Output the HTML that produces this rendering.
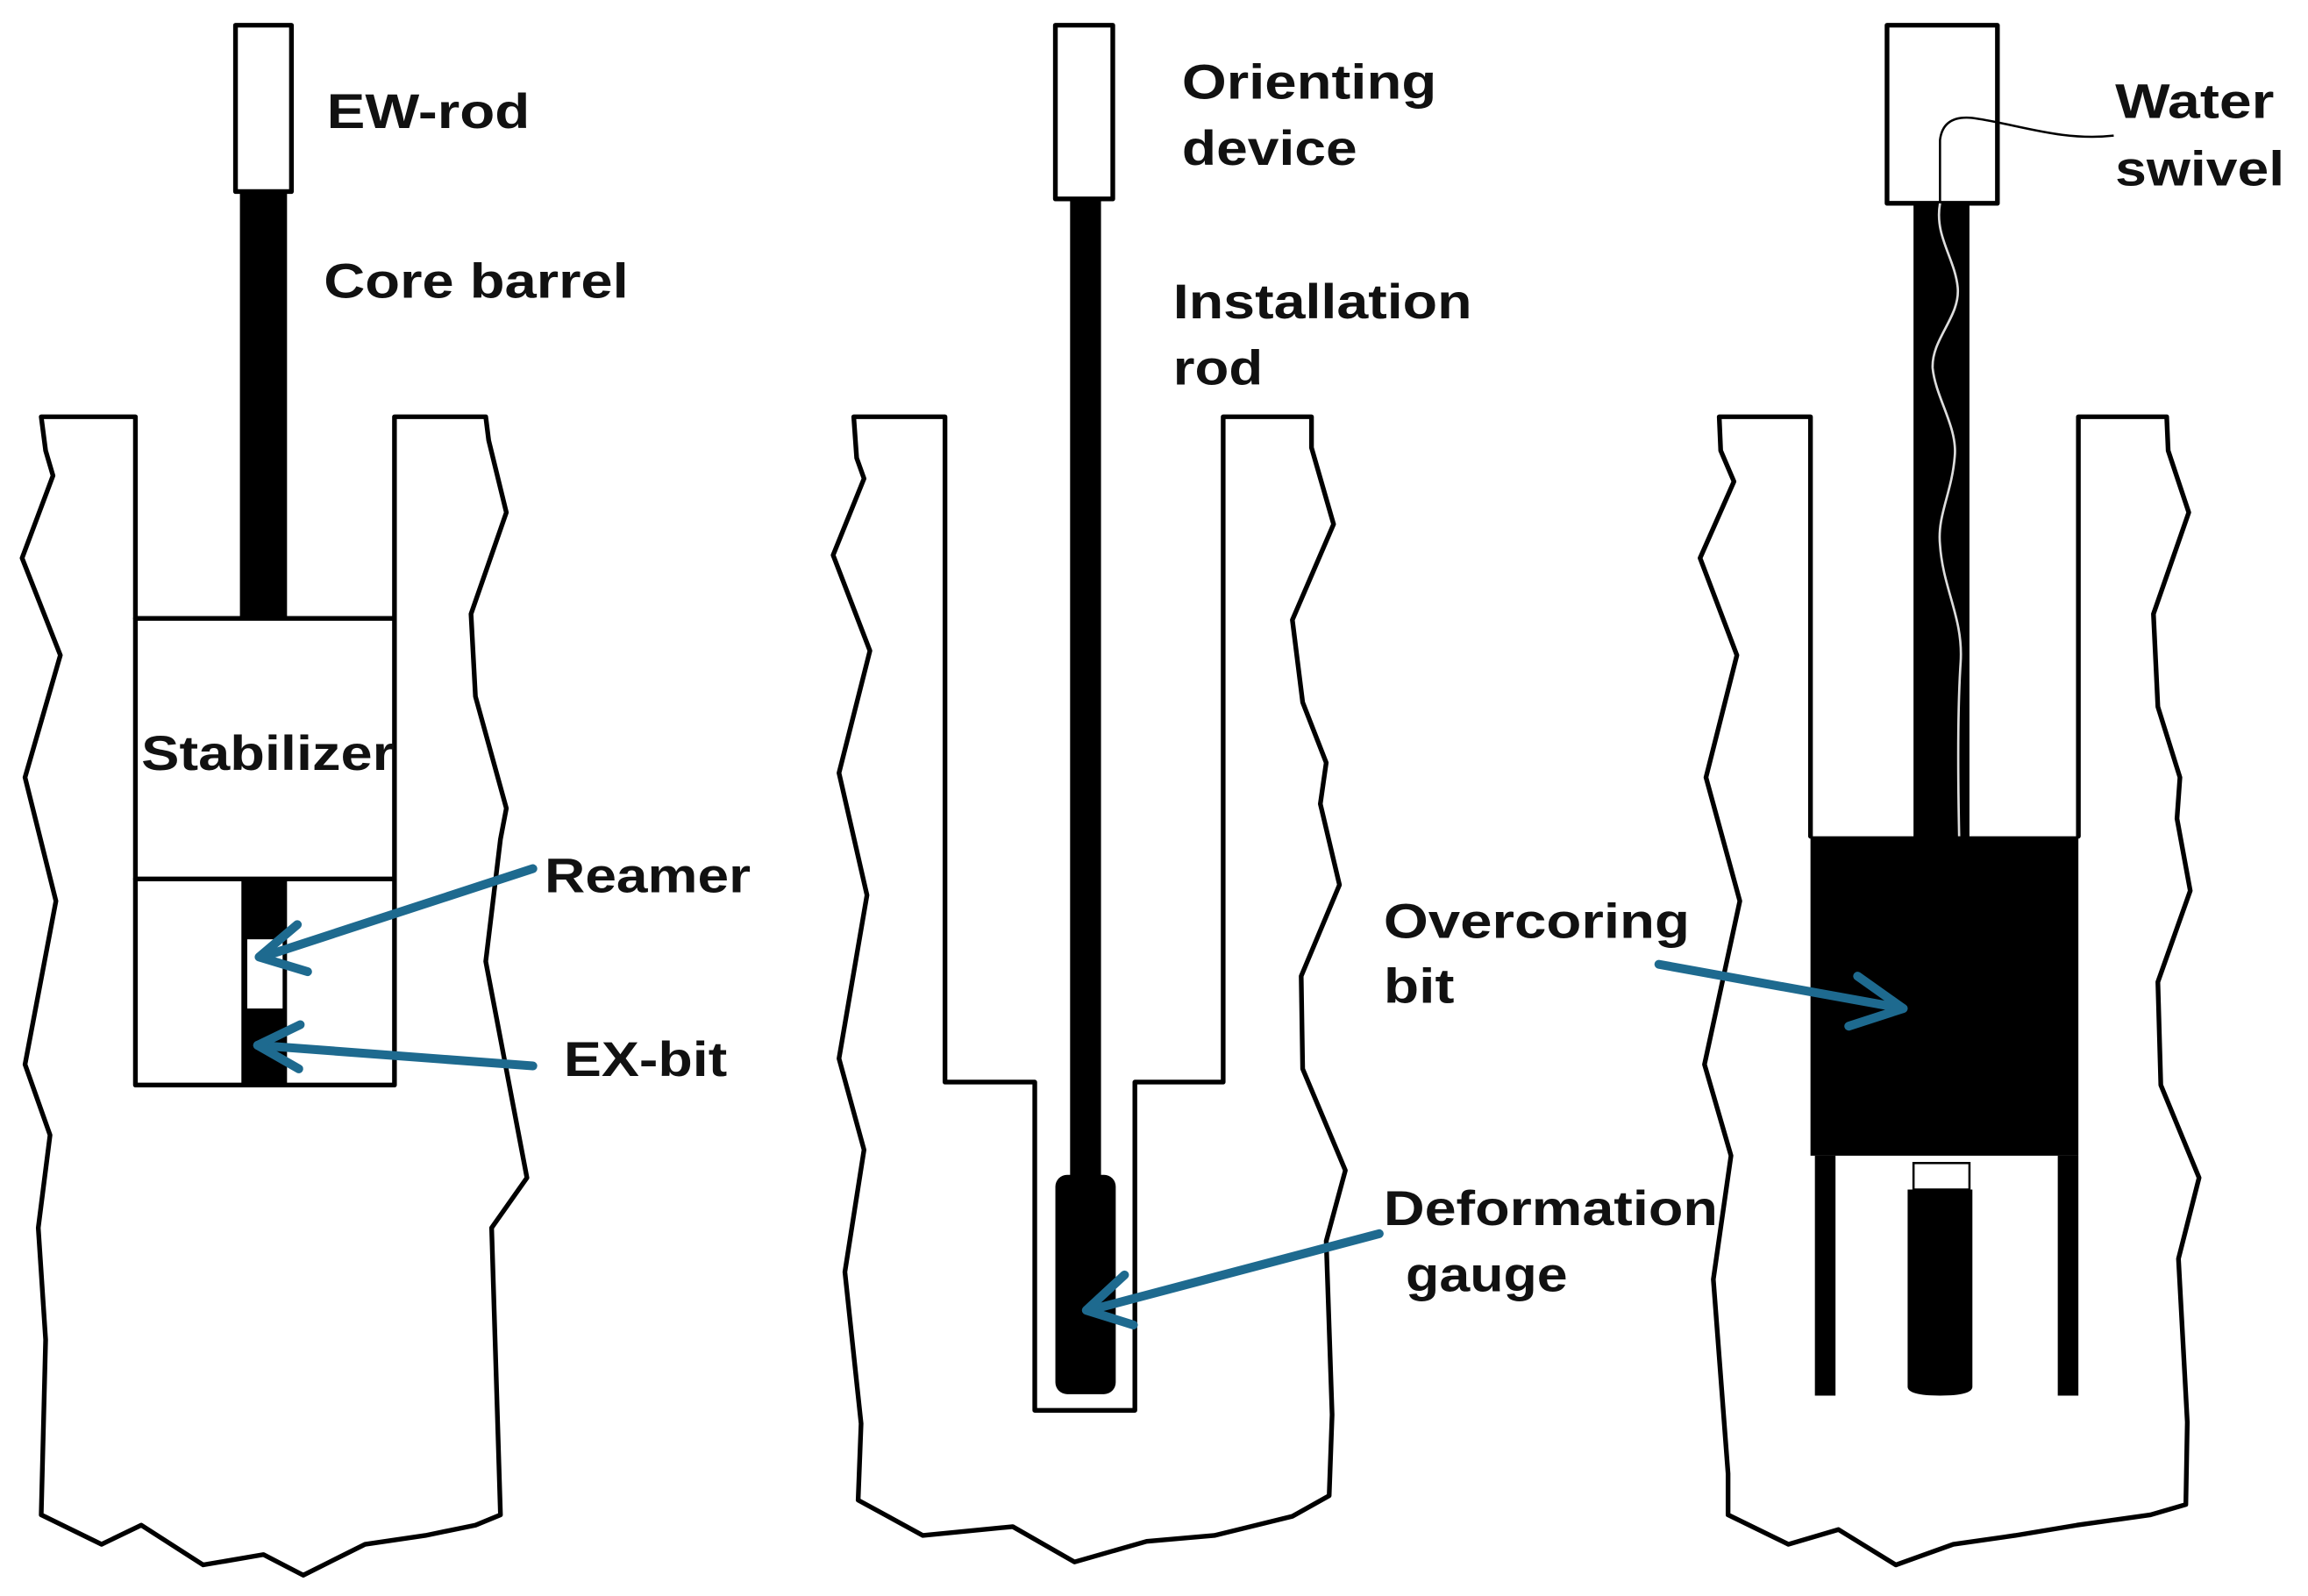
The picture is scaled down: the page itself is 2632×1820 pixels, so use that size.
<!DOCTYPE html>
<html><head><meta charset="utf-8"><style>html,body{margin:0;padding:0;background:#fff}svg{display:block}text{font-family:"Liberation Sans",sans-serif;font-weight:bold;font-size:33px;fill:#111}</style></head>
<body>
<svg width="2632" height="1820" viewBox="0 0 1568 1084" xmlns="http://www.w3.org/2000/svg">
<g fill="none" stroke="#000" stroke-width="3.2" stroke-linejoin="round" stroke-linecap="round">
<polyline points="92,420 92,283 28,283 31,306 36,323 15,379 41,445 17,528 38,612 17,723 34,771 26,834 31,910 28,1029 69,1049 96,1036 138,1063 179,1056 206,1070 248,1049 289,1043 323,1036 340,1029 334,834 358,800 330,653 340,570 344,549 323,473 320,417 344,348 332,299 330,283 268,283 268,420"/>
<polyline points="642,283 580,283 582,311 587,325 566,377 591,442 570,525 589,608 570,719 587,781 574,864 585,967 583,1019 627,1043 688,1037 730,1061 779,1047 825,1043 878,1030 903,1016 905,961 901,843 914,795 885,726 884,663 910,601 897,546 901,518 885,477 878,421 906,356 891,304 891,283 831,283 831,735 771,735 771,958 703,958 703,735 642,735 642,283"/>
<polyline points="1230,568 1230,283 1168,283 1169,306 1178,327 1155,379 1180,445 1159,528 1182,612 1158,723 1176,785 1164,869 1174,1001 1174,1029 1215,1049 1249,1039 1288,1063 1327,1049 1369,1043 1411,1036 1461,1029 1485,1022 1486,966 1480,855 1494,800 1468,737 1466,667 1488,605 1479,556 1481,528 1466,480 1463,417 1487,348 1473,306 1472,283 1412,283 1412,568"/>
<rect x="160" y="17" width="38" height="113" fill="#fff"/>
<rect x="92" y="420" width="176" height="317" fill="#fff"/>
<line x1="92" y1="597" x2="268" y2="597"/>
<rect x="717" y="17" width="39" height="118" fill="#fff"/>
<rect x="1282" y="17" width="75" height="121" fill="#fff"/>
</g>
<rect x="163" y="130" width="32" height="290" fill="#000"/>
<rect x="164" y="598" width="31" height="138" fill="#000"/>
<rect x="168" y="638" width="24" height="47" fill="#fff"/>
<rect x="727" y="135" width="21" height="670" fill="#000"/>
<rect x="717" y="798" width="41" height="149" rx="8" fill="#000"/>
<rect x="1300" y="138" width="38" height="432" fill="#000"/>
<rect x="1230" y="568" width="182" height="217" fill="#000"/>
<rect x="1233" y="785" width="14" height="163" fill="#000"/>
<rect x="1398" y="785" width="14" height="163" fill="#000"/>
<path d="M1296,808 L1340,808 L1340,942 Q1340,948 1318,948 Q1296,948 1296,942 Z" fill="#000"/>
<rect x="1300" y="790" width="38" height="18" fill="#fff" stroke="#000" stroke-width="1.5"/>
<path d="M1318,138 C1314,160 1328,175 1330,195 C1332,215 1312,230 1313,250 C1315,270 1330,290 1328,310 C1326,335 1316,350 1318,370 C1320,400 1334,420 1332,450 C1330,480 1330,520 1331,568" fill="none" stroke="#ddd" stroke-width="1.6"/>
<path d="M1318,138 L1318,95 Q1320,78 1340,80 C1370,84 1400,96 1436,92" fill="none" stroke="#000" stroke-width="1.5"/>
<g fill="none" stroke="#1e6a8f" stroke-width="6" stroke-linecap="round" stroke-linejoin="round">
<line x1="362" y1="590" x2="178" y2="650"/>
<polyline points="202,628 176,650 209,660"/>
<line x1="362" y1="724" x2="175" y2="710"/>
<polyline points="204,696 175,710 203,726"/>
<line x1="937" y1="838" x2="740" y2="890"/>
<polyline points="764,866 738,890 770,900"/>
<line x1="1127" y1="655" x2="1293" y2="685"/>
<polyline points="1262,663 1293,685 1256,697"/>
</g>
<text x="222" y="87" textLength="138" lengthAdjust="spacingAndGlyphs">EW-rod</text>
<text x="220" y="202" textLength="207" lengthAdjust="spacingAndGlyphs">Core barrel</text>
<text x="96" y="523" textLength="172" lengthAdjust="spacingAndGlyphs">Stabilizer</text>
<text x="370" y="606" textLength="140" lengthAdjust="spacingAndGlyphs">Reamer</text>
<text x="383" y="731" textLength="111" lengthAdjust="spacingAndGlyphs">EX-bit</text>
<text x="803" y="67" textLength="173" lengthAdjust="spacingAndGlyphs">Orienting</text>
<text x="803" y="112" textLength="119" lengthAdjust="spacingAndGlyphs">device</text>
<text x="797" y="216" textLength="203" lengthAdjust="spacingAndGlyphs">Installation</text>
<text x="797" y="261" textLength="61" lengthAdjust="spacingAndGlyphs">rod</text>
<text x="940" y="832" textLength="227" lengthAdjust="spacingAndGlyphs">Deformation</text>
<text x="955" y="877" textLength="110" lengthAdjust="spacingAndGlyphs">gauge</text>
<text x="940" y="637" textLength="208" lengthAdjust="spacingAndGlyphs">Overcoring</text>
<text x="940" y="681" textLength="48" lengthAdjust="spacingAndGlyphs">bit</text>
<text x="1437" y="80" textLength="108" lengthAdjust="spacingAndGlyphs">Water</text>
<text x="1437" y="126" textLength="115" lengthAdjust="spacingAndGlyphs">swivel</text>
</svg>
</body></html>
